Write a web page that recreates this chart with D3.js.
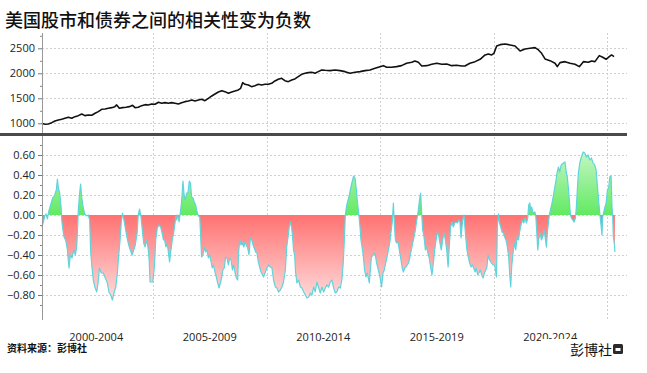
<!DOCTYPE html>
<html><head><meta charset="utf-8">
<script src="https://cdn.jsdelivr.net/npm/d3@7"></script>
<style>body{margin:0;background:#fff}svg{display:block}</style>
</head><body><svg id="c" width="647" height="373"></svg>
<script>
const titleText = "美国股市和债券之间的相关性变为负数";
const sourceText = "资料来源：彭博社";
const brandText = "彭博社";
const periodLabels = ["2000-2004","2005-2009","2010-2014","2015-2019","2020-2024"];
const periodMid = [2002.5, 2007.5, 2012.5, 2017.5, 2022.5];
const periodBounds = [2005, 2010, 2015, 2020, 2025];
const indexTicks = [1000, 1500, 2000, 2500];
const corrTicks = [0.6, 0.4, 0.2, 0, -0.2, -0.4, -0.6, -0.8];

const indexYears = [2000.10,2000.24,2000.39,2000.54,2000.68,2000.83,2000.98,2001.12,2001.27,2001.42,2001.56,2001.71,2001.86,2002.00,2002.15,2002.30,2002.45,2002.59,2002.74,2002.89,2003.03,2003.18,2003.32,2003.40,2003.52,2003.66,2003.81,2003.96,2004.10,2004.21,2004.35,2004.50,2004.65,2004.79,2004.94,2005.09,2005.24,2005.38,2005.53,2005.68,2005.82,2005.97,2006.12,2006.26,2006.41,2006.56,2006.71,2006.85,2007.00,2007.14,2007.29,2007.44,2007.59,2007.73,2007.88,2008.03,2008.17,2008.32,2008.47,2008.61,2008.76,2008.86,2008.95,2009.05,2009.20,2009.34,2009.49,2009.64,2009.79,2009.93,2010.08,2010.23,2010.37,2010.52,2010.67,2010.81,2010.96,2011.11,2011.25,2011.40,2011.55,2011.70,2011.84,2011.99,2012.14,2012.28,2012.43,2012.58,2012.80,2013.02,2013.24,2013.46,2013.68,2013.90,2014.12,2014.34,2014.56,2014.78,2015.00,2015.15,2015.29,2015.51,2015.73,2015.95,2016.17,2016.40,2016.54,2016.69,2016.84,2017.06,2017.28,2017.50,2017.72,2017.94,2018.16,2018.38,2018.60,2018.74,2018.96,2019.19,2019.41,2019.63,2019.77,2019.92,2020.02,2020.14,2020.29,2020.51,2020.73,2020.95,2021.17,2021.39,2021.61,2021.83,2021.98,2022.12,2022.27,2022.49,2022.71,2022.81,2022.93,2023.15,2023.37,2023.59,2023.78,2023.96,2024.18,2024.32,2024.47,2024.66,2024.81,2024.96,2025.10,2025.20,2025.31];
const indexValues = [1000,980,987,1013,1047,1067,1080,1100,1120,1100,1133,1153,1187,1153,1167,1160,1200,1233,1280,1287,1300,1313,1333,1367,1300,1313,1320,1333,1360,1313,1320,1353,1373,1367,1387,1380,1420,1400,1413,1400,1413,1400,1387,1413,1433,1447,1467,1447,1467,1480,1453,1500,1547,1587,1627,1653,1633,1600,1627,1647,1667,1700,1813,1780,1767,1733,1753,1780,1767,1780,1780,1800,1847,1880,1900,1853,1833,1867,1887,1933,1980,2000,2013,2020,2000,2033,2067,2060,2053,2067,2053,2033,2000,2020,2033,2053,2067,2100,2133,2153,2120,2120,2133,2153,2200,2220,2247,2220,2147,2153,2180,2200,2180,2187,2153,2160,2147,2147,2200,2233,2280,2367,2387,2367,2400,2547,2573,2587,2567,2547,2447,2487,2500,2513,2467,2400,2287,2253,2200,2133,2213,2233,2200,2180,2133,2233,2220,2247,2233,2353,2320,2280,2333,2367,2333];

const corrYears = [2000.11,2000.17,2000.23,2000.29,2000.35,2000.40,2000.49,2000.58,2000.67,2000.74,2000.79,2000.83,2000.89,2000.95,2000.98,2001.02,2001.08,2001.15,2001.23,2001.30,2001.36,2001.43,2001.51,2001.58,2001.64,2001.68,2001.71,2001.77,2001.81,2001.86,2001.92,2001.99,2002.08,2002.15,2002.21,2002.25,2002.31,2002.37,2002.44,2002.52,2002.58,2002.64,2002.72,2002.81,2002.90,2002.99,2003.06,2003.14,2003.21,2003.28,2003.36,2003.43,2003.49,2003.55,2003.60,2003.66,2003.72,2003.78,2003.85,2003.93,2004.00,2004.08,2004.15,2004.22,2004.30,2004.35,2004.41,2004.47,2004.53,2004.59,2004.65,2004.71,2004.78,2004.83,
2004.87,2004.99,2005.06,2005.12,2005.19,2005.26,2005.34,2005.40,2005.46,2005.51,2005.57,2005.63,2005.69,2005.73,2005.79,2005.85,2005.91,2005.97,2006.01,2006.04,2006.09,2006.15,2006.20,2006.26,2006.32,2006.37,2006.42,2006.48,2006.54,2006.60,2006.65,2006.70,2006.76,2006.82,2006.88,2006.94,2007.00,2007.06,2007.10,2007.14,2007.20,2007.26,2007.32,2007.38,2007.44,2007.50,2007.56,2007.61,2007.67,2007.73,2007.79,2007.85,2007.91,2007.97,2008.03,2008.08,2008.14,2008.20,2008.26,2008.32,2008.38,2008.44,2008.50,2008.55,2008.61,2008.67,2008.73,2008.77,2008.82,2008.88,2008.94,2009.00,2009.05,2009.11,2009.17,2009.23,2009.29,2009.35,2009.41,2009.46,2009.52,2009.58,2009.64,2009.70,2009.76,
2009.87,2009.95,2010.02,2010.09,2010.17,2010.24,2010.31,2010.39,2010.46,2010.53,2010.61,2010.68,2010.75,2010.83,2010.89,2010.95,2011.00,2011.06,2011.11,2011.15,2011.19,2011.24,2011.28,2011.34,2011.42,2011.49,2011.56,2011.64,2011.71,2011.78,2011.86,2011.93,2012.00,2012.08,2012.15,2012.22,2012.30,2012.37,2012.44,2012.52,2012.59,2012.66,2012.74,2012.81,2012.88,2012.96,2013.03,2013.10,2013.18,2013.25,2013.32,2013.38,2013.43,2013.47,2013.52,2013.57,2013.63,2013.69,2013.76,2013.84,2013.90,2013.96,2014.01,2014.07,2014.12,2014.16,2014.21,2014.26,2014.32,2014.38,2014.44,2014.53,2014.62,2014.70,
2014.78,2014.85,2014.93,2015.00,2015.07,2015.13,2015.19,2015.25,2015.31,2015.37,2015.43,2015.48,2015.54,2015.59,2015.63,2015.68,2015.73,2015.79,2015.85,2015.91,2015.97,2016.03,2016.09,2016.15,2016.20,2016.26,2016.32,2016.38,2016.44,2016.50,2016.56,2016.62,2016.66,2016.70,2016.75,2016.79,2016.84,2016.88,2016.94,2017.00,2017.06,2017.11,2017.17,2017.23,2017.29,2017.35,2017.41,2017.47,2017.53,2017.58,2017.64,2017.70,2017.76,2017.82,2017.88,2017.94,2018.00,2018.05,2018.11,2018.17,2018.23,2018.29,2018.35,2018.41,2018.47,2018.52,2018.57,2018.61,2018.66,2018.70,2018.74,2018.79,2018.83,2018.89,2018.95,2019.01,2019.07,2019.13,2019.19,2019.24,2019.30,2019.36,2019.42,2019.48,2019.54,2019.60,2019.66,2019.71,
2019.76,2019.83,2019.91,2019.98,2020.05,2020.13,2020.17,2020.22,2020.26,2020.32,2020.38,2020.44,2020.49,2020.55,2020.61,2020.67,2020.71,2020.76,2020.80,2020.86,2020.92,2020.98,2021.04,2021.10,2021.15,2021.21,2021.27,2021.33,2021.39,2021.45,2021.51,2021.55,2021.60,2021.64,2021.68,2021.73,2021.77,2021.82,2021.86,2021.90,2021.95,2021.99,2022.05,2022.11,2022.17,2022.23,2022.29,2022.33,2022.37,2022.42,2022.46,2022.51,2022.56,2022.62,2022.68,2022.74,2022.80,2022.86,2022.92,2022.98,2023.03,2023.09,2023.15,2023.21,2023.25,2023.30,2023.34,2023.39,2023.43,2023.49,2023.55,2023.61,2023.65,2023.70,2023.74,2023.80,2023.87,2023.95,2024.02,2024.09,2024.17,2024.24,2024.31,2024.39,2024.46,2024.52,2024.58,2024.64,2024.69,2024.75,2024.78,2024.81,2024.86,2024.90,2024.96,2025.02,2025.08,2025.12,2025.18,2025.22,2025.25,2025.28,2025.33,2025.35];
const corrValues = [-0.12,-0.07,-0.01,0.01,-0.04,0.03,0.10,0.17,0.20,0.25,0.36,0.27,0.22,0.08,-0.05,-0.13,-0.22,-0.25,-0.35,-0.53,-0.40,-0.43,-0.35,-0.40,-0.32,-0.12,0.05,0.22,0.31,0.18,0.08,0.01,-0.01,0.00,-0.05,-0.35,-0.52,-0.65,-0.72,-0.77,-0.68,-0.53,-0.58,-0.58,-0.63,-0.68,-0.77,-0.80,-0.85,-0.78,-0.72,-0.58,-0.40,-0.25,-0.08,0.02,-0.05,-0.13,-0.22,-0.30,-0.35,-0.40,-0.35,-0.30,-0.18,0.00,0.06,-0.02,-0.15,-0.28,-0.32,-0.25,-0.32,-0.45,
-0.67,-0.67,-0.52,-0.25,-0.13,-0.10,-0.12,-0.18,-0.25,-0.25,-0.32,-0.28,-0.40,-0.47,-0.35,-0.25,-0.18,-0.08,-0.01,-0.05,0.00,-0.07,0.02,0.13,0.34,0.20,0.15,0.22,0.22,0.34,0.32,0.18,0.17,0.13,0.10,0.03,-0.01,-0.02,-0.22,-0.42,-0.40,-0.32,-0.37,-0.35,-0.43,-0.40,-0.47,-0.53,-0.50,-0.57,-0.62,-0.68,-0.73,-0.68,-0.62,-0.55,-0.53,-0.42,-0.43,-0.50,-0.43,-0.45,-0.55,-0.50,-0.57,-0.63,-0.65,-0.38,-0.25,-0.30,-0.28,-0.32,-0.27,-0.30,-0.33,-0.40,-0.23,-0.25,-0.30,-0.33,-0.37,-0.38,-0.47,-0.52,-0.57,
-0.62,-0.57,-0.53,-0.50,-0.52,-0.53,-0.65,-0.72,-0.73,-0.77,-0.75,-0.72,-0.67,-0.55,-0.32,-0.22,-0.12,-0.07,-0.13,-0.22,-0.35,-0.40,-0.57,-0.68,-0.65,-0.72,-0.73,-0.77,-0.80,-0.83,-0.82,-0.78,-0.80,-0.72,-0.77,-0.67,-0.73,-0.78,-0.72,-0.77,-0.73,-0.70,-0.72,-0.67,-0.65,-0.73,-0.78,-0.77,-0.72,-0.73,-0.65,-0.48,-0.25,-0.01,0.08,0.13,0.18,0.25,0.32,0.39,0.37,0.25,0.12,0.00,-0.12,-0.25,-0.32,-0.40,-0.55,-0.62,-0.58,-0.68,-0.42,-0.40,
-0.38,-0.48,-0.55,-0.62,-0.72,-0.58,-0.55,-0.48,-0.42,-0.35,-0.28,-0.18,-0.07,0.12,-0.08,-0.25,-0.28,-0.27,-0.35,-0.43,-0.52,-0.57,-0.53,-0.52,-0.50,-0.48,-0.42,-0.35,-0.28,-0.22,-0.15,-0.05,0.00,0.07,0.17,0.22,0.00,-0.15,-0.22,-0.35,-0.32,-0.38,-0.43,-0.52,-0.60,-0.48,-0.35,-0.25,-0.17,-0.20,-0.28,-0.35,-0.25,-0.18,-0.25,-0.35,-0.52,-0.32,-0.12,-0.07,-0.12,-0.08,-0.07,-0.08,-0.05,-0.07,-0.23,-0.12,-0.03,0.00,-0.12,-0.25,-0.35,-0.42,-0.48,-0.52,-0.50,-0.53,-0.57,-0.53,-0.60,-0.58,-0.55,-0.60,-0.63,-0.58,-0.55,-0.52,
-0.40,-0.45,-0.48,-0.50,-0.50,-0.62,-0.12,0.01,-0.07,-0.12,-0.17,-0.18,-0.22,-0.25,-0.32,-0.42,-0.58,-0.72,-0.52,-0.38,-0.28,-0.35,-0.22,-0.25,-0.17,-0.10,-0.05,-0.08,-0.03,-0.08,-0.03,0.10,0.12,0.05,0.08,0.03,0.02,0.03,0.00,-0.15,-0.35,-0.25,-0.18,-0.25,-0.22,-0.15,-0.25,-0.32,-0.18,-0.08,0.00,0.05,0.10,0.17,0.25,0.33,0.42,0.48,0.43,0.50,0.51,0.52,0.53,0.42,0.38,0.27,0.15,0.00,-0.03,-0.05,-0.07,-0.03,0.08,0.28,0.42,0.52,0.58,0.63,0.62,0.58,0.60,0.55,0.57,0.52,0.50,0.45,0.28,0.12,0.00,-0.13,-0.20,-0.02,0.03,0.07,0.12,0.25,0.28,0.38,0.39,0.08,0.00,-0.22,-0.30,-0.37];

const W = 647, H = 373;
const svg = d3.select("#c");
const plotLeft = 42, plotRight = 627, plotTop = 33, plotBottom = 320;

const x = d3.scaleLinear().domain([2000, 2025]).range([39.5, 607]);
const yIdx = d3.scaleLinear().domain([800, 2800]).range([133.3, 33.3]);
const yCor = d3.scaleLinear().domain([-1.05, 0.8]).range([320, 135]);

const indexData = indexYears.map((t, i) => ({t, v: indexValues[i]}));
const corrData = corrYears.map((t, i) => ({t, v: corrValues[i]}));

const defs = svg.append("defs");
const gG = defs.append("linearGradient").attr("id", "gGreen").attr("gradientUnits", "userSpaceOnUse")
  .attr("x1", 0).attr("x2", 0).attr("y1", yCor(0)).attr("y2", yCor(0.65));
gG.append("stop").attr("offset", 0).attr("stop-color", "#62ea62");
gG.append("stop").attr("offset", 1).attr("stop-color", "#c6f7c6");
const gR = defs.append("linearGradient").attr("id", "gRed").attr("gradientUnits", "userSpaceOnUse")
  .attr("x1", 0).attr("x2", 0).attr("y1", yCor(0)).attr("y2", yCor(-0.85));
gR.append("stop").attr("offset", 0).attr("stop-color", "#ff7272");
gR.append("stop").attr("offset", 1).attr("stop-color", "#ffdcdc");
defs.append("clipPath").attr("id", "cpPos").append("rect")
  .attr("x", 0).attr("y", 0).attr("width", W).attr("height", yCor(0));
defs.append("clipPath").attr("id", "cpNeg").append("rect")
  .attr("x", 0).attr("y", yCor(0)).attr("width", W).attr("height", H - yCor(0));

// grid
const grid = svg.append("g").attr("stroke", "#cfcfcf").attr("stroke-width", 1).attr("stroke-dasharray", "2,2");
periodBounds.forEach(b => grid.append("line")
  .attr("x1", Math.round(x(b)) + 0.5).attr("x2", Math.round(x(b)) + 0.5)
  .attr("y1", plotTop).attr("y2", plotBottom));
indexTicks.forEach(v => grid.append("line")
  .attr("x1", plotLeft).attr("x2", plotRight)
  .attr("y1", Math.round(yIdx(v)) + 0.5).attr("y2", Math.round(yIdx(v)) + 0.5));
corrTicks.forEach(v => grid.append("line")
  .attr("x1", plotLeft).attr("x2", plotRight)
  .attr("y1", Math.round(yCor(v)) + 0.5).attr("y2", Math.round(yCor(v)) + 0.5));

// correlation areas
const area = d3.area().x(d => x(d.t)).y0(yCor(0)).y1(d => yCor(d.v));
svg.append("path").datum(corrData).attr("d", area).attr("fill", "url(#gGreen)").attr("clip-path", "url(#cpPos)");
svg.append("path").datum(corrData).attr("d", area).attr("fill", "url(#gRed)").attr("clip-path", "url(#cpNeg)");
svg.append("path").datum(corrData)
  .attr("d", d3.line().x(d => x(d.t)).y(d => yCor(d.v)))
  .attr("fill", "none").attr("stroke", "#5fd4dc").attr("stroke-width", 1.2).attr("stroke-linejoin", "round");

// index line
svg.append("path").datum(indexData)
  .attr("d", d3.line().x(d => x(d.t)).y(d => yIdx(d.v)))
  .attr("fill", "none").attr("stroke", "#111").attr("stroke-width", 1.6).attr("stroke-linejoin", "round");

// axes
const axTop = svg.append("g").attr("transform", `translate(${plotLeft},0)`)
  .call(d3.axisLeft(yIdx).tickValues(indexTicks).tickSize(4).tickPadding(3).tickFormat(d3.format("d")));
const axBot = svg.append("g").attr("transform", `translate(${plotLeft},0)`)
  .call(d3.axisLeft(yCor).tickValues(corrTicks).tickSize(4).tickPadding(3).tickFormat(d3.format(".2f")));
[axTop, axBot].forEach(a => {
  a.select(".domain").remove();
  a.selectAll(".tick line").attr("stroke", "#777");
  a.selectAll("text").attr("font-family", "'Open Sans', 'DejaVu Sans', sans-serif").attr("font-size", 11).attr("fill", "#222");
});
const minorIdx = d3.range(1250, 2800, 500);
const minorCor = d3.range(-0.9, 0.75, 0.2);
svg.append("g").attr("transform", `translate(${plotLeft},0)`)
  .call(d3.axisLeft(yIdx).tickValues(minorIdx).tickSize(2).tickFormat(""))
  .call(g => g.select(".domain").remove()).selectAll("line").attr("stroke", "#888");
svg.append("g").attr("transform", `translate(${plotLeft},0)`)
  .call(d3.axisLeft(yCor).tickValues(minorCor).tickSize(2).tickFormat(""))
  .call(g => g.select(".domain").remove()).selectAll("line").attr("stroke", "#888");
svg.append("line").attr("x1", plotLeft + 0.5).attr("x2", plotLeft + 0.5)
  .attr("y1", plotTop).attr("y2", plotBottom).attr("stroke", "#999");

// separator
svg.append("line").attr("x1", 0).attr("x2", plotRight).attr("y1", 134.5).attr("y2", 134.5)
  .attr("stroke", "#4a4a4a").attr("stroke-width", 3);

// period labels
svg.append("g").selectAll("text").data(periodLabels).join("text")
  .attr("x", (d, i) => x(periodMid[i])).attr("y", 341)
  .attr("text-anchor", "middle").attr("font-family", "'Open Sans', 'DejaVu Sans', sans-serif")
  .attr("font-size", 11).attr("fill", "#222").text(d => d);

// title
svg.append("text").attr("x", 5).attr("y", 26.5).attr("font-family", "'Noto Sans CJK SC', sans-serif")
  .attr("font-size", 18).attr("font-weight", 500).attr("fill", "#111").text(titleText);

// footer
svg.append("text").attr("x", 7).attr("y", 352).attr("font-family", "'Noto Sans CJK SC', sans-serif")
  .attr("font-size", 10).attr("font-weight", 700).attr("fill", "#111").text(sourceText);
svg.append("rect").attr("x", 541).attr("y", 339).attr("width", 106).attr("height", 34).attr("fill", "#fff");
svg.append("text").attr("x", 612).attr("y", 355).attr("text-anchor", "end")
  .attr("font-family", "'Noto Sans CJK SC', sans-serif").attr("font-size", 14).attr("fill", "#111").text(brandText);
svg.append("rect").attr("x", 613).attr("y", 344).attr("width", 10).attr("height", 10).attr("rx", 1.5).attr("fill", "#2a2a2a");
svg.append("rect").attr("x", 615.5).attr("y", 348).attr("width", 5).attr("height", 3).attr("fill", "#fff");
</script></body></html>
